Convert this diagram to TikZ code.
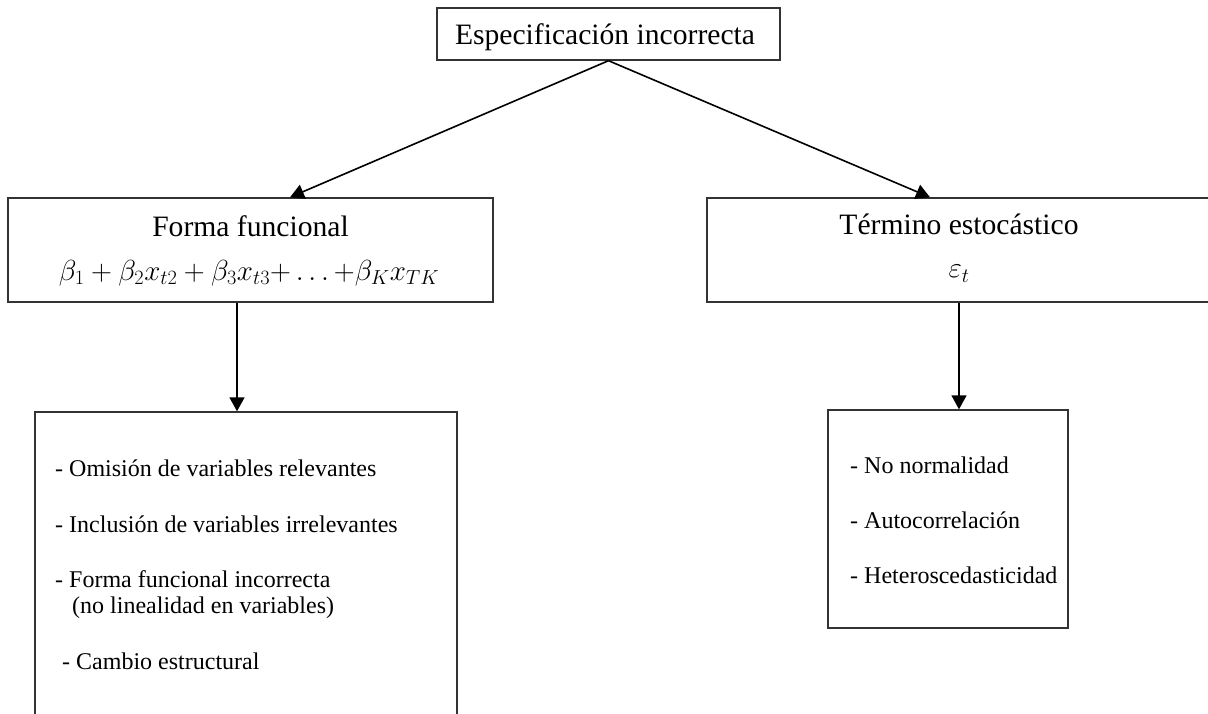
\RequirePackage{fix-cm}
\documentclass[tikz,border=0pt]{standalone}
\usepackage{fontspec}
\setmainfont{Liberation Serif}
\usetikzlibrary{arrows.meta,calc}
\begin{document}
\begin{tikzpicture}[x=1pt,y=-1pt,
  caja/.style={draw=black!80,line width=1.4pt,inner sep=0pt},
  flecha/.style={line width=1.6pt,-{Triangle[length=14pt,width=15pt]}},
  titulo/.style={font=\fontsize{29.6}{34}\selectfont,anchor=base,inner sep=0pt},
  formula/.style={font=\fontsize{29}{33}\selectfont,anchor=base,inner sep=0pt},
  punto/.style={font=\fontsize{24}{28}\selectfont,anchor=base west,inner sep=0pt}]
  \useasboundingbox (0,0) rectangle (1208,714);
  \clip (0,0) rectangle (1208,714);
  % top box
  \node[caja,minimum width=343pt,minimum height=52pt] (espec) at (608.5,34) {};
  \node[titulo] (especT) at (605,45) {Especificación incorrecta};
  % functional form box, left
  \node[caja,minimum width=485pt,minimum height=104pt] (forma) at (250.5,250) {};
  \node[titulo] (formaT) at (250.5,237) {Forma funcional};
  \node[formula] (formaEc) at (249,280) {$\beta_1+\beta_2x_{t2}+\beta_3x_{t3}{+}\ldots{+}\beta_Kx_{TK}$};
  % stochastic term box, right (runs past the edge)
  \node[caja,minimum width=504pt,minimum height=104pt] (ruido) at (959,250) {};
  \node[titulo] (ruidoT) at (959,235) {Término estocástico};
  \node[formula] (ruidoEc) at (959,278) {$\varepsilon_t$};
  % lists
  \node[caja,minimum width=422pt,minimum height=348pt] (listaIzq) at (246,586) {};
  \node[caja,minimum width=240pt,minimum height=218pt] (listaDer) at (948,519) {};
  \node[punto] (omis) at (55,476) {- Omisión de variables relevantes};
  \node[punto] (incl) at (55,532) {- Inclusión de variables irrelevantes};
  \node[punto] (ffin) at (55,587) {- Forma funcional incorrecta};
  \node[punto] (nolin) at (72,613) {(no linealidad en variables)};
  \node[punto] (camb) at (62,669) {- Cambio estructural};
  \node[punto] (norm) at (850,473) {- No normalidad};
  \node[punto] (auto) at (850,528) {- Autocorrelación};
  \node[punto] (hete) at (850,583) {- Heteroscedasticidad};
  % arrows
  \draw[flecha] (espec.south) -- ($(forma.north)+(39.5,0)$);
  \draw[flecha] (espec.south) -- ($(ruido.north)+(-29,0)$);
  \draw[flecha] ($(forma.south)+(-13.5,0)$) coordinate (bajaIzq) -- (bajaIzq |- listaIzq.north);
  \draw[flecha] (ruido.south) -- (ruido.south |- listaDer.north);
\end{tikzpicture}
\end{document}
